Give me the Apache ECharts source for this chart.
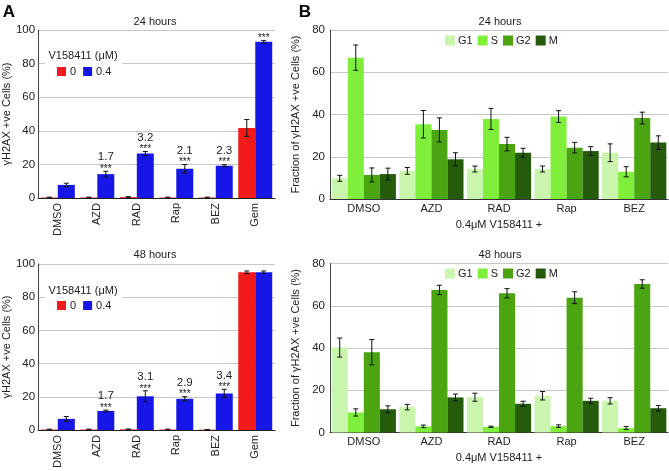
<!DOCTYPE html>
<html>
<head>
<meta charset="utf-8">
<script src="https://cdn.jsdelivr.net/npm/echarts@6/dist/echarts.min.js"></script>
<style>
  html, body { margin: 0; padding: 0; background: #fff; }
  #main { width: 669px; height: 471px; }
</style>
</head>
<body>
<div id="main"></div>
<script>
// categories
var catsA = ['DMSO', 'AZD', 'RAD', 'Rap', 'BEZ', 'Gem'];
var catsB = ['DMSO', 'AZD', 'RAD', 'Rap', 'BEZ'];

// panel A, 24 hours: V158411 0 uM (red) and 0.4 uM (blue)
var a24Ctrl    = [0.3, 0.3, 0.5, 0.3, 0.3, 41.7];
var a24CtrlErr = [0.2, 0.2, 0.3, 0.2, 0.2, 5.0];
var a24Drug    = [7.8, 14.2, 26.5, 17.4, 19.2, 93.0];
var a24DrugErr = [1.0, 1.7, 1.2, 2.5, 0.6, 0.8];
var a24Fold    = ['', '1.7', '3.2', '2.1', '2.3', ''];
var a24Stars   = ['', '***', '***', '***', '***', '***'];

// panel A, 48 hours
var a48Ctrl    = [0.3, 0.3, 0.4, 0.3, 0.2, 95.0];
var a48CtrlErr = [0.2, 0.2, 0.2, 0.2, 0.1, 0.8];
var a48Drug    = [6.7, 11.5, 20.3, 18.8, 22.0, 95.0];
var a48DrugErr = [1.4, 0.5, 3.3, 1.3, 2.5, 0.8];
var a48Fold    = ['', '1.7', '3.1', '2.9', '3.4', ''];
var a48Stars   = ['', '***', '***', '***', '***', ''];

// panel B, 24 hours: cell cycle phase fractions
var b24G1 = [9.8, 13.3, 14.2, 14.2, 21.9];
var b24G1Err = [1.4, 1.6, 1.4, 1.4, 4.2];
var b24S  = [66.9, 35.4, 37.9, 39.0, 12.9];
var b24SErr = [6.0, 6.5, 5.0, 2.8, 2.4];
var b24G2 = [11.4, 32.7, 26.0, 24.3, 38.3];
var b24G2Err = [3.3, 5.7, 3.2, 2.5, 2.8];
var b24M  = [11.8, 18.8, 21.9, 22.7, 26.7];
var b24MErr = [2.8, 3.1, 2.1, 2.1, 3.2];

// panel B, 48 hours
var b48G1 = [40.2, 12.0, 16.7, 17.4, 15.0];
var b48G1Err = [4.5, 1.3, 1.9, 2.0, 1.5];
var b48S  = [9.5, 2.9, 2.7, 3.0, 2.1];
var b48SErr = [1.7, 0.6, 0.3, 0.6, 0.7];
var b48G2 = [38.0, 67.5, 65.9, 63.8, 70.3];
var b48G2Err = [6.0, 2.2, 2.2, 2.8, 2.0];
var b48M  = [11.0, 16.6, 13.6, 15.0, 11.5];
var b48MErr = [1.6, 1.6, 1.2, 1.2, 1.3];

var FONT = "'Liberation Sans', Arial, sans-serif";
var TXT = '#222';
var RED = '#f21a1a', BLUE = '#1616e6';
var PHASE = {G1: '#c9f5ac', S: '#80ef3c', G2: '#4aa510', M: '#245c0c'};

var gapA = 0.14, gapB = 0.05;

// error bars (and optional annotations) placed over bar k of n in each category
function errSeries(g, vals, errs, k, n, gap, notes, stars) {
  return {
    type: 'custom', xAxisIndex: g, yAxisIndex: g, z: 6, silent: true,
    data: vals.map(function (v, i) { return [i, v, errs[i]]; }),
    renderItem: function (params, api) {
      var band = api.size([1, 0])[0];
      var bw = band * (1 - gap) / n;
      var c = api.coord([api.value(0), api.value(1)]);
      var x = c[0] - band * (1 - gap) / 2 + (k + 0.5) * bw;
      var hi = api.coord([api.value(0), api.value(1) + api.value(2)])[1];
      var lo = api.coord([api.value(0), Math.max(0, api.value(1) - api.value(2))])[1];
      var st = {stroke: '#111', lineWidth: 1};
      var cap = 2.5;
      var kids = [
        {type: 'line', shape: {x1: x, y1: hi, x2: x, y2: lo}, style: st},
        {type: 'line', shape: {x1: x - cap, y1: hi, x2: x + cap, y2: hi}, style: st},
        {type: 'line', shape: {x1: x - cap, y1: lo, x2: x + cap, y2: lo}, style: st}
      ];
      var i = params.dataIndex;
      if (stars && stars[i]) {
        kids.push({type: 'text', style: {text: stars[i], x: x, y: hi - 2,
          align: 'center', verticalAlign: 'middle', fontSize: 10, fontFamily: FONT, fill: TXT}});
      }
      if (notes && notes[i]) {
        kids.push({type: 'text', style: {text: notes[i], x: x, y: hi - 14,
          align: 'center', verticalAlign: 'middle', fontSize: 11.5, fontFamily: FONT, fill: TXT}});
      }
      return {type: 'group', children: kids};
    }
  };
}

function bar(g, name, vals, color, gap) {
  return {
    type: 'bar', name: name, xAxisIndex: g, yAxisIndex: g, data: vals,
    itemStyle: {color: color}, barGap: '0%', barCategoryGap: (gap * 100) + '%',
    silent: true, animation: false
  };
}

function yAx(g, max, name) {
  return {
    type: 'value', gridIndex: g, min: 0, max: max, interval: 20,
    name: name, nameLocation: 'middle', nameGap: g < 2 ? 22 : 21,
    nameTextStyle: {fontSize: 11, color: TXT, fontFamily: FONT},
    axisLine: {show: true, lineStyle: {color: '#444'}},
    axisTick: {show: false},
    axisLabel: {fontSize: 11.5, color: TXT, margin: g < 2 ? 3 : 5},
    splitLine: {lineStyle: {color: '#c8c8c8'}}
  };
}

function xAxA(g) {
  return {
    type: 'category', gridIndex: g, data: catsA,
    axisLine: {lineStyle: {color: '#222'}}, axisTick: {show: false},
    axisLabel: {rotate: 90, fontSize: 11, color: TXT, margin: 5, interval: 0}
  };
}

function xAxB(g) {
  return {
    type: 'category', gridIndex: g, data: catsB,
    name: '0.4\u03bcM V158411 +', nameLocation: 'middle', nameGap: 20,
    nameTextStyle: {fontSize: 11, color: TXT, fontFamily: FONT},
    axisLine: {lineStyle: {color: '#333'}}, axisTick: {show: false},
    axisLabel: {fontSize: 11, color: TXT, margin: 4, interval: 0}
  };
}

function legA(top) {
  return {data: ['0', '0.4'], left: 57, top: top, icon: 'rect', itemWidth: 9, itemHeight: 9,
    itemGap: 7, padding: 0, selectedMode: false, z: 10,
    textStyle: {fontSize: 11, color: TXT, padding: [0, 0, 0, -1]}};
}

function legB(top) {
  return {data: ['G1', 'S', 'G2', 'M'], left: 445, top: top, icon: 'rect', itemWidth: 10, itemHeight: 10,
    itemGap: 5, padding: 0, selectedMode: false,
    textStyle: {fontSize: 11, color: TXT, padding: [0, 0, 0, -2]}};
}

function txt(x, y, s, size, bold) {
  return {type: 'text', x: x, y: y, z: 20, silent: true,
    style: {text: s, align: 'center', verticalAlign: 'middle', fontSize: size,
      fontWeight: bold ? 'bold' : 'normal', fontFamily: FONT, fill: bold ? '#000' : TXT}};
}

var yNameA = '\u03b3H2AX +ve Cells (%)';
var yNameB = 'Fraction of \u03b3H2AX +ve Cells (%)';

var series = [
  bar(0, '0', a24Ctrl, RED, gapA), bar(0, '0.4', a24Drug, BLUE, gapA),
  bar(1, '0', a48Ctrl, RED, gapA), bar(1, '0.4', a48Drug, BLUE, gapA),
  bar(2, 'G1', b24G1, PHASE.G1, gapB), bar(2, 'S', b24S, PHASE.S, gapB),
  bar(2, 'G2', b24G2, PHASE.G2, gapB), bar(2, 'M', b24M, PHASE.M, gapB),
  bar(3, 'G1', b48G1, PHASE.G1, gapB), bar(3, 'S', b48S, PHASE.S, gapB),
  bar(3, 'G2', b48G2, PHASE.G2, gapB), bar(3, 'M', b48M, PHASE.M, gapB),
  errSeries(0, a24Ctrl, a24CtrlErr, 0, 2, gapA),
  errSeries(0, a24Drug, a24DrugErr, 1, 2, gapA, a24Fold, a24Stars),
  errSeries(1, a48Ctrl, a48CtrlErr, 0, 2, gapA),
  errSeries(1, a48Drug, a48DrugErr, 1, 2, gapA, a48Fold, a48Stars),
  errSeries(2, b24G1, b24G1Err, 0, 4, gapB), errSeries(2, b24S, b24SErr, 1, 4, gapB),
  errSeries(2, b24G2, b24G2Err, 2, 4, gapB), errSeries(2, b24M, b24MErr, 3, 4, gapB),
  errSeries(3, b48G1, b48G1Err, 0, 4, gapB), errSeries(3, b48S, b48SErr, 1, 4, gapB),
  errSeries(3, b48G2, b48G2Err, 2, 4, gapB), errSeries(3, b48M, b48MErr, 3, 4, gapB)
];

var chart = echarts.init(document.getElementById('main'), null, {renderer: 'canvas'});
chart.setOption({
  animation: false,
  backgroundColor: '#fff',
  textStyle: {fontFamily: FONT},
  grid: [
    {left: 33, top: 30, width: 242, height: 168},
    {left: 33, top: 264, width: 242, height: 169},
    {left: 330, top: 30, width: 338, height: 169},
    {left: 330, top: 263.5, width: 338, height: 169}
  ],
  xAxis: [xAxA(0), xAxA(1), xAxB(2), xAxB(3)],
  yAxis: [yAx(0, 100, yNameA), yAx(1, 100, yNameA), yAx(2, 80, yNameB), yAx(3, 80, yNameB)],
  legend: [legA(66), legA(300), legB(35), legB(268)],
  graphic: [
    {type: 'rect', shape: {x: 45, y: 46, width: 77, height: 34}, style: {fill: '#fff'}, z: 3, silent: true},
    {type: 'rect', shape: {x: 45, y: 282, width: 77, height: 34}, style: {fill: '#fff'}, z: 3, silent: true},
    txt(83, 56, 'V158411 (\u03bcM)', 11),
    txt(83, 291, 'V158411 (\u03bcM)', 11),
    txt(155, 22, '24 hours', 11),
    txt(155, 255, '48 hours', 11),
    txt(500, 22, '24 hours', 11),
    txt(500, 255, '48 hours', 11),
    txt(9, 12, 'A', 17, true),
    txt(305, 12, 'B', 17, true)
  ],
  series: series
});
</script>
</body>
</html>
